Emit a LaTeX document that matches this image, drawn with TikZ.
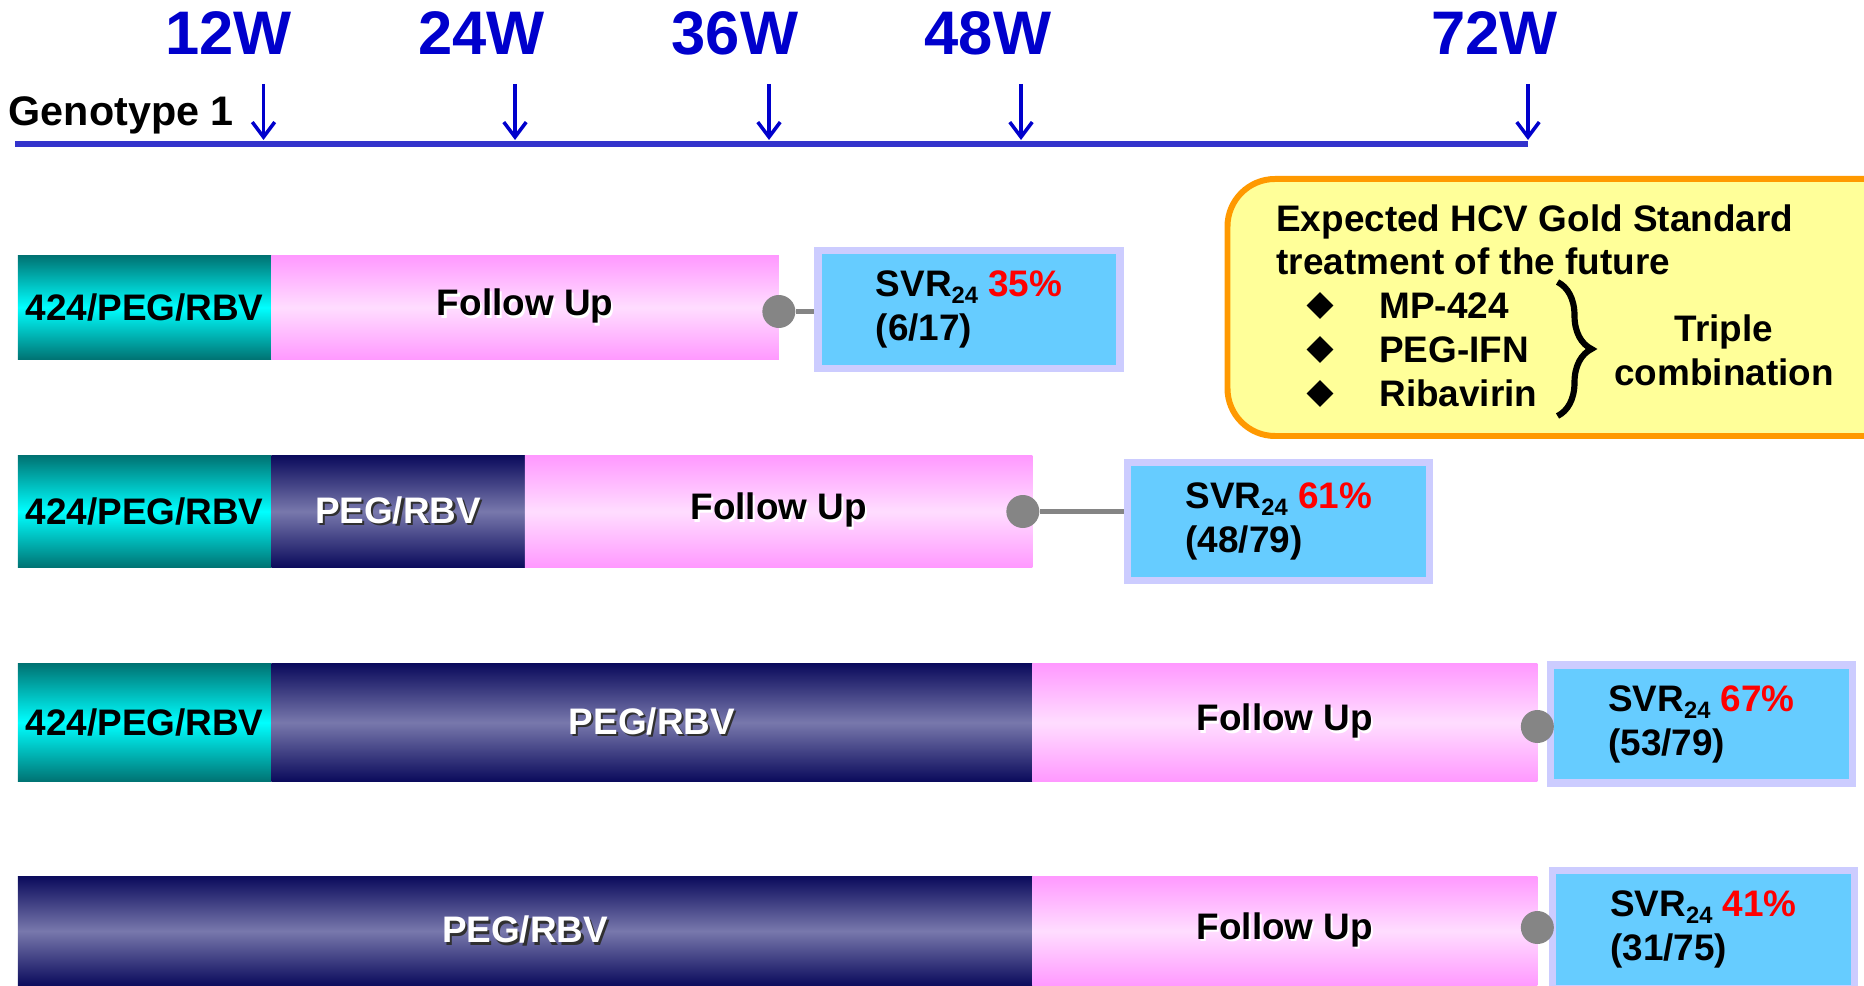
\documentclass[tikz,border=0pt]{standalone}
\usepackage{fontspec}
\setmainfont{Liberation Sans}
\usepackage{xcolor}
\usepackage{tikz}
\usetikzlibrary{shapes.geometric, arrows.meta, positioning, calc, decorations.pathreplacing}
\definecolor{weekblue}{HTML}{0000CC}
\definecolor{lineblue}{HTML}{3333CC}
\definecolor{tealdark}{HTML}{007373}
\definecolor{tealmid}{HTML}{00FFFF}
\definecolor{navydark}{HTML}{0B0B5C}
\definecolor{navymid}{HTML}{7878AC}
\definecolor{pinkedge}{HTML}{FF99FF}
\definecolor{pinkmid}{HTML}{FFDDFF}
\definecolor{dotgray}{HTML}{858585}
\definecolor{svrfill}{HTML}{66CCFF}
\definecolor{svredge}{HTML}{CCCCFF}
\definecolor{svrred}{HTML}{FF0000}
\definecolor{goldfill}{HTML}{FFFF99}
\definecolor{goldedge}{HTML}{FF9900}
\definecolor{shadowdark}{HTML}{303030}

% text with a small cast shadow behind it
\newcommand{\castshadow}[2]{\makebox[0pt][l]{\hspace{1.2pt}\raisebox{-1.2pt}{\textcolor{#1}{#2}}}#2}
% lowered, smaller index
\newcommand{\svrsub}[1]{\raisebox{-4pt}{\fontsize{13.5}{14}\selectfont #1}}

\begin{document}
\begin{tikzpicture}[
  weeklabel/.style={font=\fontsize{35}{40}\selectfont\bfseries, text=weekblue, inner sep=0pt},
  genolabel/.style={font=\fontsize{23.5}{28}\selectfont\bfseries, inner sep=0pt},
  timeline/.style={lineblue, line width=2.9pt},
  weekarrow/.style={-{Straight Barb[length=0.3cm, width=0.45cm]}, line width=2pt, weekblue},
  segment/.style={inner sep=0pt, outer sep=0pt, font=\fontsize{21}{25}\selectfont\bfseries},
  drugbar/.style={segment, top color=tealdark, bottom color=tealdark, middle color=tealmid},
  pegbar/.style={segment, top color=navydark, bottom color=navydark, middle color=navymid, text=white},
  followbar/.style={segment, top color=pinkedge, bottom color=pinkedge, middle color=pinkmid},
  enddot/.style={circle, fill=dotgray, minimum size=0.66cm, inner sep=0pt},
  dotlink/.style={dotgray, line width=2.8pt},
  svrbox/.style={draw=svredge, fill=svrfill, line width=4pt, align=left, minimum width=6.04cm,
    minimum height=2.36cm, font=\fontsize{21}{25}\selectfont\bfseries},
  goldbox/.style={draw=goldedge, fill=goldfill, line width=3.4pt, rounded corners=0.95cm},
  goldtext/.style={font=\fontsize{21}{25}\selectfont\bfseries, inner sep=0pt},
  bullet/.style={diamond, fill=black, minimum width=0.54cm, minimum height=0.54cm, inner sep=0pt},
  bracket/.style={decorate, decoration={brace, amplitude=0.68cm}, line width=3.5pt}
]
  \useasboundingbox (0,0) rectangle (37.28,-19.72);

  % Week scale on top
  \node[weeklabel] (w12) at (4.57,-0.67) {12W};
  \node[weeklabel] (w24) at (9.63,-0.67) {24W};
  \node[weeklabel] (w36) at (14.70,-0.67) {36W};
  \node[weeklabel] (w48) at (19.76,-0.67) {48W};
  \node[weeklabel] (w72) at (29.89,-0.67) {72W};
  \node[genolabel, anchor=base west] (geno) at (0.17,-2.51) {Genotype 1};

  \coordinate (tlstart) at (0.31,-2.88);
  \coordinate (tlend) at (30.56,-2.88);
  \draw[timeline] (tlstart) -- (tlend);

  % Arrows down to the axis
  \coordinate (tip12) at (5.27,-2.80);
  \coordinate (tip24) at (10.30,-2.80);
  \coordinate (tip36) at (15.38,-2.80);
  \coordinate (tip48) at (20.42,-2.80);
  \coordinate (tip72) at (30.56,-2.80);
  \draw[weekarrow] ([yshift=1.12cm]tip12) -- (tip12);
  \draw[weekarrow] ([yshift=1.12cm]tip24) -- (tip24);
  \draw[weekarrow] ([yshift=1.12cm]tip36) -- (tip36);
  \draw[weekarrow] ([yshift=1.12cm]tip48) -- (tip48);
  \draw[weekarrow] ([yshift=1.12cm]tip72) -- (tip72);

  % Arm 1: 12W triple, follow up
  \node[drugbar, anchor=west, minimum width=5.07cm, minimum height=2.07cm] (r1a) at (0.357,-6.15) {424/PEG/RBV};
  \node[followbar, right=0pt of r1a, minimum width=10.15cm, minimum height=2.07cm] (r1b) {\castshadow{white}{Follow Up}};
  \node[svrbox] (s1) at (19.38,-6.19) {SVR\svrsub{24} \textcolor{svrred}{35\%}\\(6/17)};
  \node[enddot] (d1) at ([yshift=-0.08cm]r1b.east) {};
  \draw[dotlink] (d1.east) -- (d1 -| s1.west);

  % Arm 2: 12W triple, 12W PEG/RBV, follow up
  \node[drugbar, anchor=west, minimum width=5.07cm, minimum height=2.235cm] (r2a) at (0.357,-10.23) {424/PEG/RBV};
  \node[pegbar, right=0pt of r2a, minimum width=5.07cm, minimum height=2.235cm] (r2b) {\castshadow{shadowdark}{PEG/RBV}};
  \node[followbar, right=0pt of r2b, minimum width=10.15cm, minimum height=2.235cm] (r2c) {\castshadow{white}{Follow Up}};
  \node[svrbox] (s2) at (25.575,-10.43) {SVR\svrsub{24} \textcolor{svrred}{61\%}\\(48/79)};
  \node[enddot] (d2) at ([xshift=-0.19cm]r2c.east) {};
  \draw[dotlink] (d2.east) -- (d2 -| s2.west);

  % Arm 3: 12W triple, 36W PEG/RBV, follow up
  \node[drugbar, anchor=west, minimum width=5.07cm, minimum height=2.35cm] (r3a) at (0.357,-14.45) {424/PEG/RBV};
  \node[pegbar, right=0pt of r3a, minimum width=15.22cm, minimum height=2.35cm] (r3b) {\castshadow{shadowdark}{PEG/RBV}};
  \node[followbar, right=0pt of r3b, minimum width=10.1cm, minimum height=2.35cm] (r3c) {\castshadow{white}{Follow Up}};
  \node[svrbox] (s3) at (34.03,-14.48) {SVR\svrsub{24} \textcolor{svrred}{67\%}\\(53/79)};
  \node[enddot] (d3) at ([yshift=-0.08cm]r3c.east) {};

  % Arm 4: 48W PEG/RBV control
  \node[pegbar, anchor=west, minimum width=20.29cm, minimum height=2.19cm] (r4a) at (0.357,-18.62) {\castshadow{shadowdark}{PEG/RBV}};
  \node[followbar, right=0pt of r4a, minimum width=10.1cm, minimum height=2.19cm] (r4b) {\castshadow{white}{Follow Up}};
  \node[svrbox] (s4) at (34.07,-18.59) {SVR\svrsub{24} \textcolor{svrred}{41\%}\\(31/75)};
  \node[enddot] (d4) at ([yshift=0.07cm]r4b.east) {};

  % Gold standard box
  \node[goldbox, anchor=north west, minimum width=14.5cm, minimum height=5.14cm] (gold) at (24.49,-3.52) {};
  \node[goldtext, anchor=base west] (g1) at (25.52,-4.64) {Expected HCV Gold Standard};
  \node[goldtext, anchor=base west] (g2) at (25.52,-5.50) {treatment of the future};
  \node[bullet] (b1) at (26.40,-6.11) {};
  \node[bullet] (b2) at (26.40,-6.99) {};
  \node[bullet] (b3) at (26.40,-7.87) {};
  \node[goldtext, anchor=base west] (i1) at (27.58,-6.38) {MP-424};
  \node[goldtext, anchor=base west] (i2) at (27.58,-7.26) {PEG-IFN};
  \node[goldtext, anchor=base west] (i3) at (27.58,-8.14) {Ribavirin};
  \coordinate (bracetop) at (31.15,-5.64);
  \coordinate (bracebot) at (31.15,-8.32);
  \draw[bracket] (bracetop) -- (bracebot);
  \node[goldtext, align=center] (triple) at (34.48,-7.0) {Triple\\combination};
\end{tikzpicture}
\end{document}
